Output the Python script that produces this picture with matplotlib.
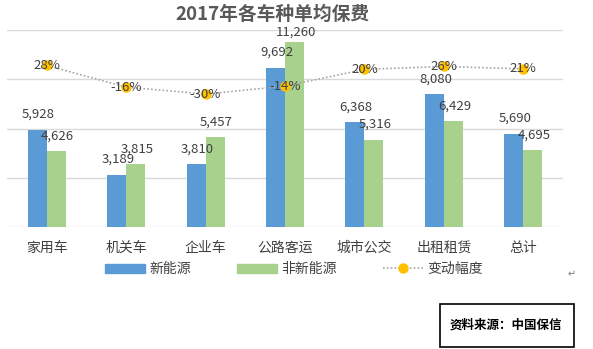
import numpy as np
import matplotlib
matplotlib.use("Agg")
import matplotlib.pyplot as plt
import matplotlib.patches as mpatches
from matplotlib.lines import Line2D

plt.rcParams["font.family"] = ["Noto Sans CJK SC", "DejaVu Sans"]

# data
categories = ["家用车", "机关车", "企业车", "公路客运", "城市公交", "出租租赁", "总计"]
new_energy = [5928, 3189, 3810, 9692, 6368, 8080, 5690]
non_new_energy = [4626, 3815, 5457, 11260, 5316, 6429, 4695]
change_pct = [0.28, -0.16, -0.30, -0.14, 0.20, 0.26, 0.21]

BLUE = "#5B9BD5"
GREEN = "#A9D18E"
GOLD = "#FFC000"
DOT = "#A5A5A5"
TEXT = "#404040"
GRID = "#D9D9D9"

W, H = 593, 349
fig = plt.figure(figsize=(W / 100, H / 100), dpi=100)
fig.patch.set_facecolor("white")

ax = fig.add_axes([7 / W, (H - 227) / H, 556 / W, 197 / H])
x = np.arange(len(categories))
bw = 0.24

ax.bar(x - bw / 2, new_energy, bw, color=BLUE, zorder=2)
ax.bar(x + bw / 2, non_new_energy, bw, color=GREEN, zorder=2)


def label_bar(xc, v):
    # labels near the top get pulled down to stay inside the plot, like Excel does
    dy = 11 if v < 10800 else 7.5
    ax.annotate(f"{v:,}", (xc, v), xytext=(1, dy), textcoords="offset points",
                ha="center", va="center", fontsize=9.5, color=TEXT, zorder=5)


for xi, v in zip(x, new_energy):
    label_bar(xi - bw / 2, v)
for xi, v in zip(x, non_new_energy):
    label_bar(xi + bw / 2, v)

ax.set_xlim(-0.5, len(categories) - 0.5)
ax.set_ylim(0, 12000)
ax.set_yticks([0, 3000, 6000, 9000, 12000])
ax.yaxis.grid(True, color=GRID, linewidth=1.0)
ax.set_axisbelow(True)
ax.set_yticklabels([])
ax.tick_params(axis="y", length=0)
ax.set_xticks(x)
ax.set_xticklabels(categories, fontsize=10, color=TEXT)
ax.tick_params(axis="x", length=0, pad=10)
for s in ax.spines.values():
    s.set_visible(False)

# secondary axis for change line
ax2 = ax.twinx()
ax2.set_ylim(-3, 1)
ax2.plot(x, change_pct, color=DOT, linestyle=(0, (1, 1.3)), linewidth=1.2,
         marker="o", markersize=6.5, markerfacecolor=GOLD, markeredgecolor=GOLD, zorder=3)
for xi, p in zip(x, change_pct):
    ax2.text(xi, p, f"{p:.0%}", ha="center", va="center", fontsize=9.5, color=TEXT, zorder=6)
ax2.set_yticks([])
for s in ax2.spines.values():
    s.set_visible(False)

fig.text(272 / W, (H - 14) / H, "2017年各车种单均保费", ha="center", va="center",
         fontsize=13.5, fontweight="bold", color="#595959")

handles = [
    mpatches.Patch(color=BLUE, label="新能源"),
    mpatches.Patch(color=GREEN, label="非新能源"),
    Line2D([0], [0], color=DOT, linestyle=(0, (1, 1.3)), linewidth=1.2, marker="o",
           markersize=6.5, markerfacecolor=GOLD, markeredgecolor=GOLD, label="变动幅度"),
]
fig.legend(handles=handles, loc="center", bbox_to_anchor=(294 / W, (H - 269) / H),
           ncol=3, frameon=False, fontsize=10, labelcolor=TEXT, handlelength=2.9,
           handleheight=0.6, handletextpad=0.3, columnspacing=3.3)

fig.text(572 / W, (H - 274) / H, "↵", ha="center", va="center", fontsize=7, color="#7F7F7F")

box = mpatches.Rectangle((440 / W, 2 / H), 134 / W, 43 / H, transform=fig.transFigure,
                         fill=False, edgecolor="black", linewidth=1.2)
fig.patches.append(box)
fig.text(506 / W, (H - 325) / H, "资料来源：中国保信", ha="center", va="center",
         fontsize=9, fontweight="bold", color="black")

fig.savefig("out.png", dpi=100, facecolor="white")
